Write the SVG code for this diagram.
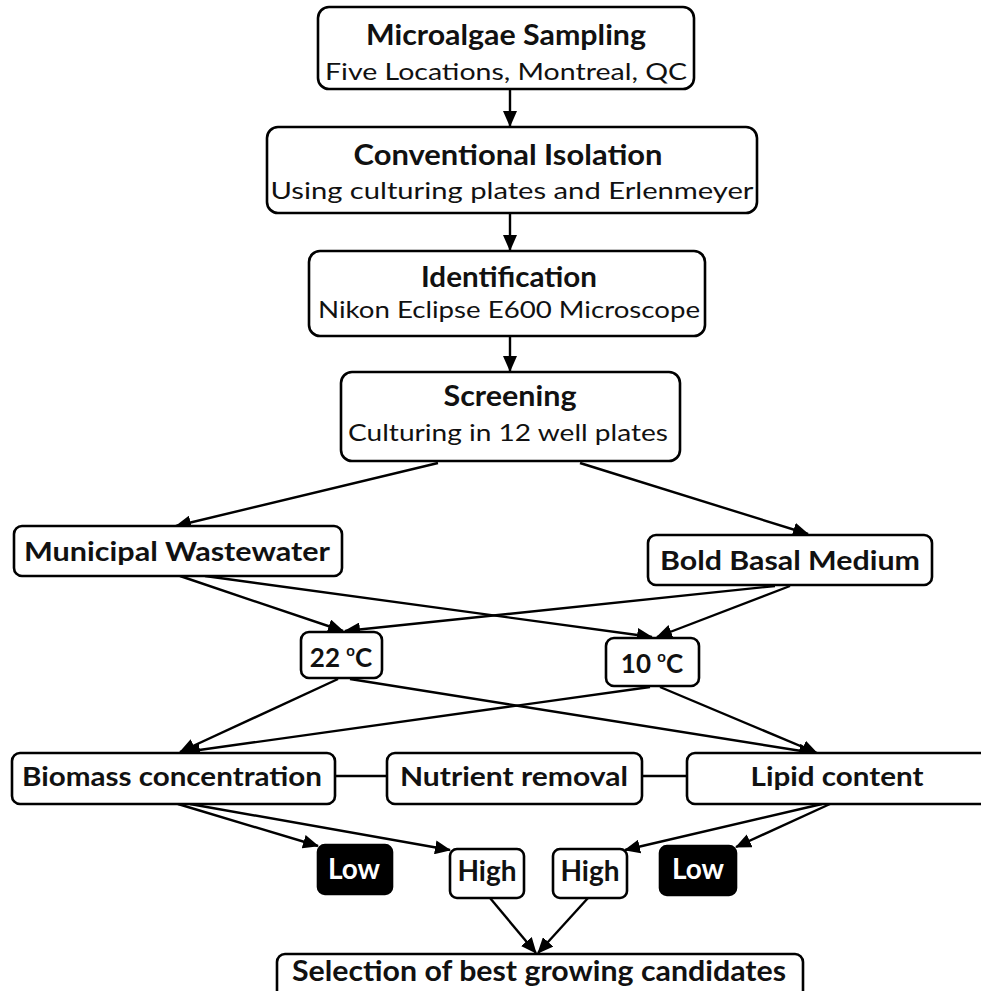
<svg xmlns="http://www.w3.org/2000/svg" width="981" height="991" viewBox="0 0 981 991">
<style>
.box{fill:#fff;stroke:#000;stroke-width:2.6}
.dark{fill:#000;stroke:#000;stroke-width:2.6}
.t{font-family:Lato,"Open Sans","Liberation Sans",sans-serif;font-weight:bold;font-size:26px;fill:#111;text-anchor:middle}
.h{font-size:28px}
.s{font-family:Lato,"Open Sans","Liberation Sans",sans-serif;font-size:24px;fill:#111;text-anchor:middle}
.w{fill:#fff}
.c line{stroke:#000;stroke-width:2.4}
</style>
<defs>
<marker id="ah" markerUnits="userSpaceOnUse" markerWidth="16" markerHeight="14" refX="15" refY="7" orient="auto">
<path d="M0,0 L16,7 L0,14 Z" fill="#000"/>
</marker>
</defs>
<rect width="981" height="991" fill="#fff"/>
<g class="c">
<line x1="510" y1="89" x2="510" y2="126" marker-end="url(#ah)"/>
<line x1="510" y1="213" x2="510" y2="250" marker-end="url(#ah)"/>
<line x1="510" y1="336" x2="510" y2="371" marker-end="url(#ah)"/>
<line x1="438" y1="463" x2="176" y2="526" marker-end="url(#ah)"/>
<line x1="580" y1="463" x2="808" y2="534" marker-end="url(#ah)"/>
<line x1="180" y1="576" x2="343" y2="631" marker-end="url(#ah)"/>
<line x1="205" y1="576" x2="652" y2="637" marker-end="url(#ah)"/>
<line x1="775" y1="586" x2="345" y2="631" marker-end="url(#ah)"/>
<line x1="790" y1="586" x2="657" y2="637" marker-end="url(#ah)"/>
<line x1="338" y1="679" x2="180" y2="752" marker-end="url(#ah)"/>
<line x1="350" y1="679" x2="814" y2="753" marker-end="url(#ah)"/>
<line x1="650" y1="687" x2="185" y2="752" marker-end="url(#ah)"/>
<line x1="660" y1="687" x2="817" y2="753" marker-end="url(#ah)"/>
<line x1="335" y1="776" x2="387" y2="776"/>
<line x1="642" y1="776" x2="687" y2="776"/>
<line x1="178" y1="804" x2="318" y2="846" marker-end="url(#ah)"/>
<line x1="190" y1="804" x2="450" y2="850" marker-end="url(#ah)"/>
<line x1="822" y1="804" x2="625" y2="850" marker-end="url(#ah)"/>
<line x1="830" y1="804" x2="736" y2="847" marker-end="url(#ah)"/>
<line x1="490" y1="898" x2="536" y2="953" marker-end="url(#ah)"/>
<line x1="588" y1="898" x2="538" y2="953" marker-end="url(#ah)"/>
</g>
<g id="sampling">
<rect class="box" x="318" y="7" width="376" height="82" rx="11"/>
<text class="t h" x="506" y="45" textLength="280" lengthAdjust="spacingAndGlyphs">Microalgae Sampling</text>
<text class="s" x="506" y="80" textLength="362" lengthAdjust="spacingAndGlyphs">Five Locations, Montreal, QC</text>
</g>
<g id="isolation">
<rect class="box" x="267" y="127" width="490" height="86" rx="11"/>
<text class="t h" x="508" y="165" textLength="309" lengthAdjust="spacingAndGlyphs">Conventional Isolation</text>
<text class="s" x="512" y="199" textLength="483" lengthAdjust="spacingAndGlyphs">Using culturing plates and Erlenmeyer</text>
</g>
<g id="identification">
<rect class="box" x="309" y="251" width="396" height="85" rx="11"/>
<text class="t h" x="509" y="287" textLength="176" lengthAdjust="spacingAndGlyphs">Identification</text>
<text class="s" x="509" y="318" textLength="382" lengthAdjust="spacingAndGlyphs">Nikon Eclipse E600 Microscope</text>
</g>
<g id="screening">
<rect class="box" x="341" y="372" width="339" height="89" rx="11"/>
<text class="t h" x="510" y="406" textLength="133" lengthAdjust="spacingAndGlyphs">Screening</text>
<text class="s" x="508" y="441" textLength="320" lengthAdjust="spacingAndGlyphs">Culturing in 12 well plates</text>
</g>
<g id="municipal">
<rect class="box" x="14" y="526" width="328" height="50" rx="8"/>
<text class="t" x="177" y="561" textLength="306" lengthAdjust="spacingAndGlyphs">Municipal Wastewater</text>
</g>
<g id="bbm">
<rect class="box" x="648" y="535" width="284" height="50" rx="8"/>
<text class="t" x="790" y="570" textLength="260" lengthAdjust="spacingAndGlyphs">Bold Basal Medium</text>
</g>
<g id="t22">
<rect class="box" x="301" y="632" width="81" height="46" rx="8"/>
<text class="t" x="341" y="667">22 <tspan font-size="15" dy="-11">o</tspan><tspan dy="11">C</tspan></text>
</g>
<g id="t10">
<rect class="box" x="606" y="638" width="93" height="48" rx="8"/>
<text class="t" x="652" y="673">10 <tspan font-size="15" dy="-11">o</tspan><tspan dy="11">C</tspan></text>
</g>
<g id="biomass">
<rect class="box" x="12" y="753" width="323" height="51" rx="8"/>
<text class="t" x="172" y="786" textLength="300" lengthAdjust="spacingAndGlyphs">Biomass concentration</text>
</g>
<g id="nutrient">
<rect class="box" x="387" y="753" width="255" height="51" rx="8"/>
<text class="t" x="514" y="786" textLength="228" lengthAdjust="spacingAndGlyphs">Nutrient removal</text>
</g>
<g id="lipid">
<rect class="box" x="687" y="753" width="305" height="51" rx="8"/>
<text class="t" x="837" y="786" textLength="173" lengthAdjust="spacingAndGlyphs">Lipid content</text>
</g>
<g id="low1">
<rect class="dark" x="318" y="845" width="74" height="49" rx="7"/>
<text class="t h w" x="354" y="879">Low</text>
</g>
<g id="high1">
<rect class="box" x="450" y="849" width="74" height="49" rx="7"/>
<text class="t h" x="487" y="881">High</text>
</g>
<g id="high2">
<rect class="box" x="553" y="849" width="74" height="49" rx="7"/>
<text class="t h" x="590" y="881">High</text>
</g>
<g id="low2">
<rect class="dark" x="660" y="846" width="76" height="49" rx="7"/>
<text class="t h w" x="698" y="879">Low</text>
</g>
<g id="selection">
<rect class="box" x="277" y="954" width="526" height="50" rx="8"/>
<text class="t h" x="539" y="981" textLength="494" lengthAdjust="spacingAndGlyphs">Selection of best growing candidates</text>
</g>
</svg>
